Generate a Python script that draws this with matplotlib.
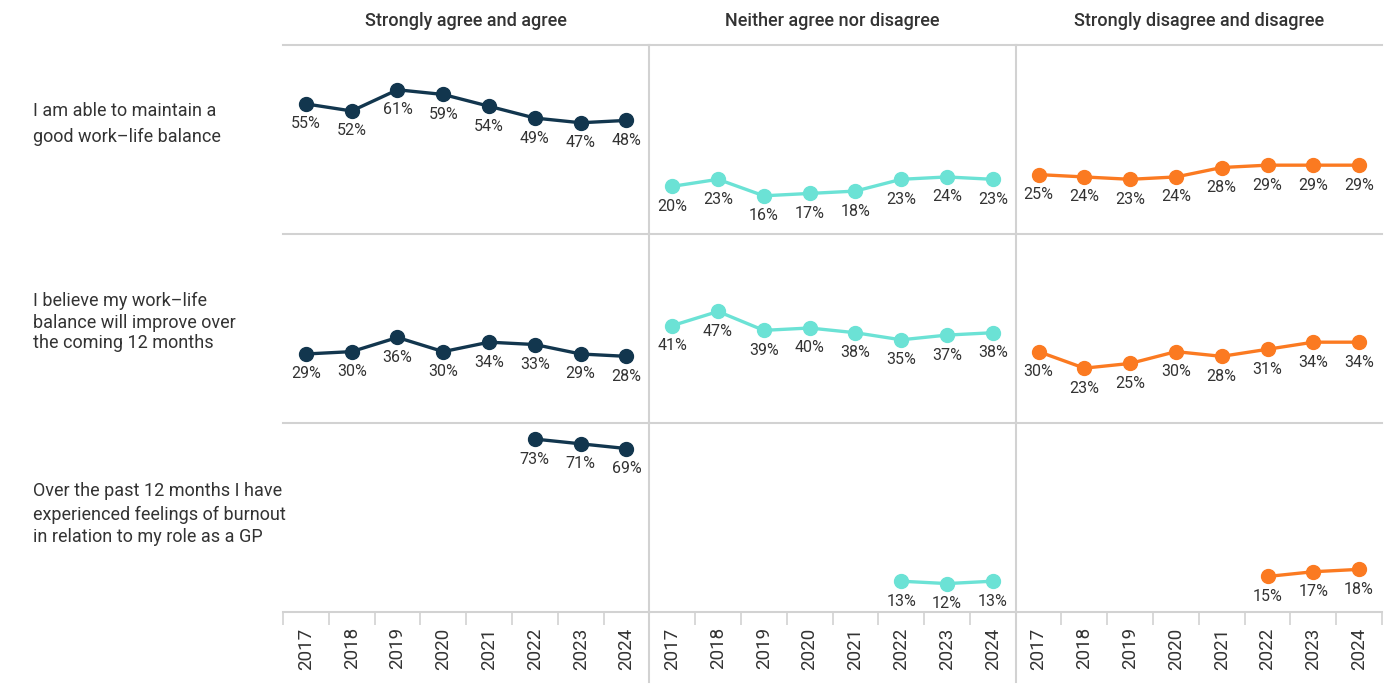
import matplotlib
matplotlib.use("Agg")
import matplotlib.pyplot as plt
from matplotlib.lines import Line2D
import numpy as np

plt.rcParams['font.family'] = ['Roboto', 'DejaVu Sans']

years = ["2017", "2018", "2019", "2020", "2021", "2022", "2023", "2024"]
columns = ["Strongly agree and agree", "Neither agree nor disagree", "Strongly disagree and disagree"]
statements = [
    "I am able to maintain a\ngood work\u2013life balance",
    "I believe my work\u2013life\nbalance will improve over\nthe coming 12 months",
    "Over the past 12 months I have\nexperienced feelings of burnout\nin relation to my role as a GP",
]
colors = ["#12364e", "#6be2d5", "#fb7a21"]

balance_agree = [55, 52, 61, 59, 54, 49, 47, 48]
balance_neither = [20, 23, 16, 17, 18, 23, 24, 23]
balance_disagree = [25, 24, 23, 24, 28, 29, 29, 29]

improve_agree = [29, 30, 36, 30, 34, 33, 29, 28]
improve_neither = [41, 47, 39, 40, 38, 35, 37, 38]
improve_disagree = [30, 23, 25, 30, 28, 31, 34, 34]

burnout_agree = [None, None, None, None, None, 73, 71, 69]
burnout_neither = [None, None, None, None, None, 13, 12, 13]
burnout_disagree = [None, None, None, None, None, 15, 17, 18]

data = [
    [balance_agree, balance_neither, balance_disagree],
    [improve_agree, improve_neither, improve_disagree],
    [burnout_agree, burnout_neither, burnout_disagree],
]

W, H = 1400, 688
fig = plt.figure(figsize=(W / 100, H / 100), dpi=100)

grid_c = "#d2d2d2"
text_c = "#333333"
x_left, x_right = 283, 1382
row_edges = [45, 233.5, 422.5, 612]
bottom_ext = 682
col_w = (x_right - x_left) / 3

for r in range(3):
    for c in range(3):
        x0 = x_left + c * col_w
        y_top = row_edges[r]
        y_bot = row_edges[r + 1]
        ax = fig.add_axes([x0 / W, 1 - y_bot / H, col_w / W, (y_bot - y_top) / H])
        ax.set_xlim(-0.5, len(years) - 0.5)
        ax.set_ylim(0, 80)
        for s in ax.spines.values():
            s.set_visible(False)
        ax.spines['top'].set_visible(True)
        ax.spines['top'].set_color(grid_c)
        ax.spines['top'].set_linewidth(1.5)
        if c > 0:
            ax.spines['left'].set_visible(True)
            ax.spines['left'].set_color(grid_c)
            ax.spines['left'].set_linewidth(1.5)
        ax.set_yticks([])
        if r == 2:
            ax.spines['bottom'].set_visible(True)
            ax.spines['bottom'].set_color(grid_c)
            ax.spines['bottom'].set_linewidth(1.5)
            ax.set_xticks(np.arange(len(years)))
            ax.set_xticklabels(years, rotation=90, fontsize=13.5, color=text_c)
            ax.set_xticks(np.arange(len(years) + 1) - 0.5, minor=True)
            ax.tick_params(axis='x', which='major', length=0, pad=11)
            ax.tick_params(axis='x', which='minor', length=9.5, width=1.2, color=grid_c)
            if c > 0:
                ext = (bottom_ext - y_bot) / (y_bot - y_top)
                ax.add_line(Line2D([0, 0], [-ext, 0], transform=ax.transAxes,
                                   color=grid_c, lw=1.5, clip_on=False))
        else:
            ax.set_xticks([])

        vals = data[r][c]
        xs = [i for i, v in enumerate(vals) if v is not None]
        ys = [v for v in vals if v is not None]
        ax.plot(xs, ys, color=colors[c], lw=2.4, marker='o', markersize=10,
                solid_capstyle='round', clip_on=False, zorder=3)
        for x, y in zip(xs, ys):
            ax.annotate(f"{y}%", (x, y), xytext=(0, -9), textcoords='offset points',
                        ha='center', va='top', fontsize=11.5, color=text_c)

# Column headers
for c, name in enumerate(columns):
    cx = x_left + (c + 0.5) * col_w
    fig.text(cx / W, 1 - 21 / H, name, ha='center', va='center',
             fontsize=13, fontweight='medium', color=text_c)

# Row labels (baseline of first line, line spacing in px)
label_baselines = [116.5, 306.5, 496.5]
label_spacing = [25, 21, 23]
for r, label in enumerate(statements):
    for i, line in enumerate(label.split("\n")):
        yb = label_baselines[r] + i * label_spacing[r]
        fig.text(33 / W, 1 - yb / H, line, ha='left', va='baseline',
                 fontsize=13, color=text_c)

fig.savefig("out.png", dpi=100)
